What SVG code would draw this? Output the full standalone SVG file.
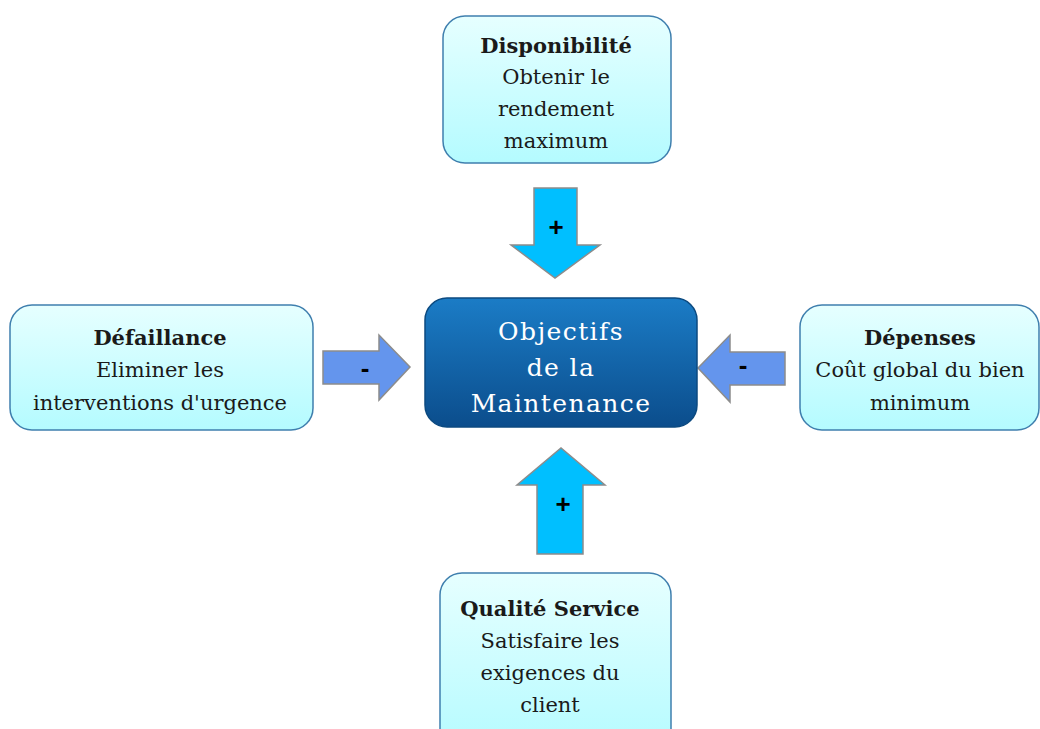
<svg xmlns="http://www.w3.org/2000/svg" width="1040" height="729" viewBox="0 0 1040 729">
<defs>
<linearGradient id="lg" x1="0" y1="0" x2="0" y2="1"><stop offset="0" stop-color="#e6ffff"/><stop offset="1" stop-color="#b4fbff"/></linearGradient>
<linearGradient id="cg" x1="0" y1="0" x2="0" y2="1"><stop offset="0" stop-color="#1b7cc6"/><stop offset="1" stop-color="#0b4d8c"/></linearGradient>
</defs>
<style>
.box{fill:url(#lg);stroke:#3f7fae;stroke-width:1.5}
.ctr{fill:url(#cg);stroke:#0c4a80;stroke-width:1.5}
.t{font-family:"DejaVu Serif","Liberation Serif",serif;font-size:21px;fill:#1a1a1a;text-anchor:middle}
.b{font-weight:bold}
.ct{font-family:"DejaVu Serif","Liberation Serif",serif;font-size:25px;fill:#ffffff;text-anchor:middle;letter-spacing:1.4px}
.ab{fill:#00bfff;stroke:#8c8c8c;stroke-width:1.5}
.ac{fill:#6495ed;stroke:#8c8c8c;stroke-width:1.5}
.s{font-family:"Liberation Sans",Arial,sans-serif;font-size:26px;font-weight:bold;fill:#000;text-anchor:middle}
</style>
<g id="connectors">
<g id="arrow-top"><polygon class="ab" points="534,188 577,188 577,245 600,245 555,278 511,245 534,245"/><text class="s" x="556" y="236">+</text></g>
<g id="arrow-bottom"><polygon class="ab" points="537,554 583,554 583,485 605,485 561,448 517,485 537,485"/><text class="s" x="563" y="513">+</text></g>
<g id="arrow-left"><polygon class="ac" points="323,351 379,351 379,335 410,367 379,400 379,384 323,384"/><text class="s" x="365" y="377">-</text></g>
<g id="arrow-right"><polygon class="ac" points="785,352 730,352 730,335 698,368 730,402 730,385 785,385"/><text class="s" x="743" y="374">-</text></g>
</g>
<g id="node-disponibilite">
<rect class="box" x="443" y="16" width="228" height="147" rx="22"/>
<text class="t b" x="556" y="53">Disponibilité</text>
<text class="t" x="556" y="84">Obtenir le</text>
<text class="t" x="556" y="116">rendement</text>
<text class="t" x="556" y="148">maximum</text>
</g>
<g id="node-objectifs">
<rect class="ctr" x="425" y="298" width="272" height="129" rx="22"/>
<text class="ct" x="561" y="340">Objectifs</text>
<text class="ct" x="561" y="376">de la</text>
<text class="ct" x="561" y="412">Maintenance</text>
</g>
<g id="node-defaillance">
<rect class="box" x="10" y="305" width="303" height="125" rx="22"/>
<text class="t b" x="160" y="345">Défaillance</text>
<text class="t" x="160" y="377">Eliminer les</text>
<text class="t" x="160" y="410">interventions d'urgence</text>
</g>
<g id="node-depenses">
<rect class="box" x="800" y="305" width="239" height="125" rx="22"/>
<text class="t b" x="920" y="345">Dépenses</text>
<text class="t" x="920" y="377">Coût global du bien</text>
<text class="t" x="920" y="410">minimum</text>
</g>
<g id="node-qualite">
<rect class="box" x="440" y="573" width="231" height="180" rx="22"/>
<text class="t b" x="550" y="616">Qualité Service</text>
<text class="t" x="550" y="648">Satisfaire les</text>
<text class="t" x="550" y="680">exigences du</text>
<text class="t" x="550" y="712">client</text>
</g>
</svg>
